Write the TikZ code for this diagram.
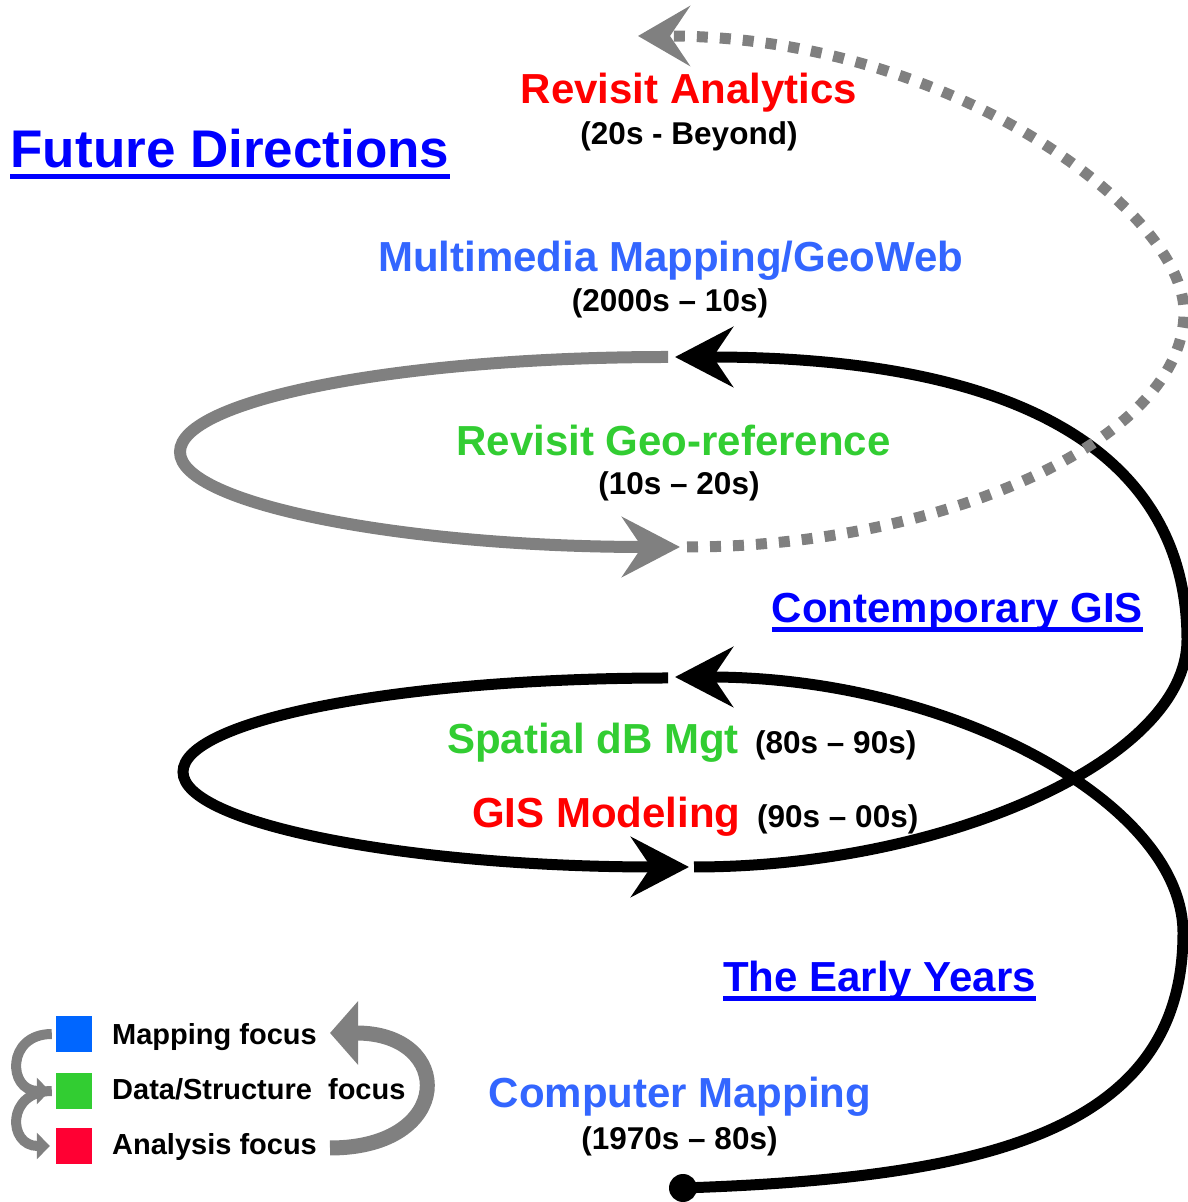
\documentclass[tikz,border=0pt]{standalone}
\usepackage{fontspec}
\setmainfont{Liberation Sans}
\usetikzlibrary{arrows.meta}
\definecolor{deepblue}{RGB}{0,0,255}
\definecolor{lightblue}{RGB}{51,102,255}
\definecolor{eragreen}{RGB}{50,205,50}
\definecolor{erared}{RGB}{255,0,0}
\definecolor{arrowgray}{RGB}{128,128,128}
\definecolor{keyblue}{RGB}{0,102,255}
\definecolor{keygreen}{RGB}{50,205,50}
\definecolor{keyred}{RGB}{255,0,51}

\begin{document}
\begin{tikzpicture}[x=1pt,y=1pt,
  txt/.style={inner sep=0pt, anchor=base, font=\bfseries\fontsize{42}{48}\selectfont},
  sub/.style={inner sep=0pt, anchor=base, font=\bfseries\fontsize{31.5}{36}\selectfont},
  keytxt/.style={inner sep=0pt, anchor=base west, font=\bfseries\fontsize{29}{34}\selectfont},
  keysq/.style={inner sep=0pt, minimum size=36pt, draw=none},
  spiral/.style={line width=11pt, black},
  grayline/.style={line width=12pt, arrowgray},
  dotline/.style={line width=11pt, arrowgray, dash pattern=on 11pt off 12pt},
  bighead/.style={-{Stealth[length=58pt,width=60pt,inset=20pt]}},
  keyarrow/.style={line width=10pt, arrowgray, -{Triangle[length=13pt,width=26pt]}},
]
\useasboundingbox (0,0) rectangle (1188,1202);

% ---- spiral anchor points
\coordinate (s0) at (683,14);
\coordinate (r1) at (1183,269);
\coordinate (t1) at (675,525);
\coordinate (l1s) at (668,524);
\coordinate (l1w) at (183,430);
\coordinate (t2) at (689,335);
\coordinate (c2s) at (694,335);
\coordinate (r2) at (1187,562);
\coordinate (t3) at (675,845);
\coordinate (g1s) at (668,845);
\coordinate (g1w) at (180,750);
\coordinate (t4) at (680,655);
\coordinate (d1s) at (687,655);
\coordinate (r3) at (1184,890);
\coordinate (t5) at (638,1166);

% ---- first turn (black)
\draw[spiral,bighead] (s0) .. controls +(300,10) and +(0,-200) .. (r1)
  .. controls +(0,130) and +(275,0) .. (t1);
\draw[spiral,bighead] (l1s) .. controls +(-268,0) and +(0,52) .. (l1w)
  .. controls +(0,-52) and +(-279,0) .. (t2);
% ---- second turn (black)
\draw[spiral,bighead] (c2s) .. controls +(250,0) and +(0,-120) .. (r2)
  .. controls +(0,180) and +(355,0) .. (t3);
% ---- third turn (gray, then dotted)
\draw[grayline,bighead] (g1s) .. controls +(-270,0) and +(0,52) .. (g1w)
  .. controls +(0,-52) and +(-276,0) .. (t4);
\draw[dotline,-{Stealth[length=52pt,width=60pt,inset=20pt]}] (d1s) .. controls +(250,0) and +(0,-130) .. (r3)
  .. controls +(0,100) and +(312,0) .. (t5);

\node[circle, fill=black, inner sep=0pt, minimum size=28pt] (start) at (s0) {};

% ---- section headings
\node[txt, text=deepblue, font=\bfseries\fontsize{53}{60}\selectfont] (fd) at (230,1034) {Future Directions};
\fill[deepblue] ([yshift=-6pt]fd.base west) rectangle ([yshift=-11pt]fd.base east);
\node[txt, text=deepblue] (cg) at (957.5,579) {Contemporary GIS};
\fill[deepblue] ([yshift=-4pt]cg.base west) rectangle ([yshift=-9pt]cg.base east);
\node[txt, text=deepblue] (ey) at (879.5,210) {The Early Years};
\fill[deepblue] ([yshift=-4pt]ey.base west) rectangle ([yshift=-9pt]ey.base east);

% ---- eras
\node[txt, text=erared] (ra) at (689,1098) {Revisit Analytics};
\node[sub] (rad) at (689,1057) {(20s - Beyond)};
\node[txt, text=lightblue] (mm) at (670.5,930) {Multimedia Mapping/GeoWeb};
\node[sub] (mmd) at (670,890) {(2000s – 10s)};
\node[txt, text=eragreen] (rg) at (673.5,746) {Revisit Geo-reference};
\node[sub] (rgd) at (679,707) {(10s – 20s)};
\node[txt, text=eragreen, anchor=base west] (sd) at (447,448) {Spatial dB Mgt};
\node[sub, anchor=base west] (sdd) at (755,448) {(80s – 90s)};
\node[txt, text=erared, anchor=base west] (gm) at (472,374) {GIS Modeling};
\node[sub, anchor=base west] (gmd) at (757,374) {(90s – 00s)};
\node[txt, text=lightblue] (cm) at (680,94) {Computer Mapping};
\node[sub] (cmd) at (679.5,52) {(1970s – 80s)};

% ---- legend
\node[keysq, fill=keyblue] (kb) at (74,168) {};
\node[keysq, fill=keygreen] (kg) at (74,111) {};
\node[keysq, fill=keyred] (kr) at (74,56) {};
\node[keytxt] (km) at (112,157) {Mapping focus};
\node[keytxt] (kd) at (112,102) {Data/Structure\ \ focus};
\node[keytxt] (ka) at (112,47) {Analysis focus};
\coordinate (a1s) at ([xshift=-4pt]kb.west);
\coordinate (a1e) at ([xshift=-6pt]kg.west);
\coordinate (a2s) at ([xshift=-4pt]kg.west);
\coordinate (a2e) at ([xshift=-6pt]kr.west);
\draw[keyarrow] (a1s) .. controls +(-46,0) and +(-42,0) .. (a1e);
\draw[keyarrow] (a2s) .. controls +(-46,0) and +(-42,0) .. (a2e);
\coordinate (b1s) at (330,54);
\coordinate (b1e) at (330,169);
\draw[line width=15pt, arrowgray, -{Triangle[length=28pt,width=62pt]}] (b1s) .. controls +(125,0) and +(125,0) .. (b1e);
\end{tikzpicture}
\end{document}
